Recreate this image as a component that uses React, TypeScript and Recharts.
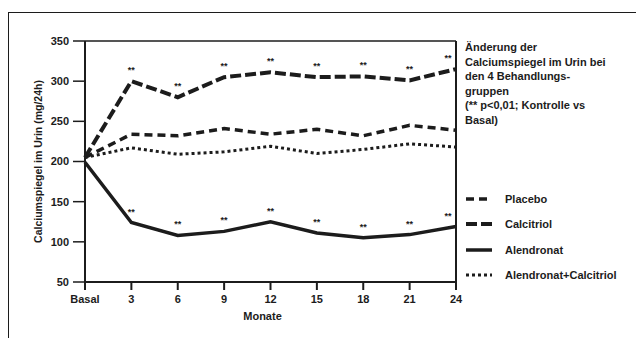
import React from 'react';
import { LineChart, Line, XAxis, YAxis, ReferenceLine, LabelList, Label } from 'recharts';

const months = [0, 3, 6, 9, 12, 15, 18, 21, 24];
const monthLabels = ['Basal', '3', '6', '9', '12', '15', '18', '21', '24'];
const placebo = [205, 234, 232, 241, 234, 240, 232, 245, 239];
const calcitriol = [205, 300, 280, 305, 311, 305, 306, 301, 315];
const alendronat = [199, 124, 108, 113, 125, 111, 105, 109, 119];
const alendronatCalcitriol = [205, 217, 209, 212, 219, 210, 215, 222, 218];
const yTicks = [50, 100, 150, 200, 250, 300, 350];

const titleLines = [
  'Änderung der',
  'Calciumspiegel im Urin bei',
  'den 4 Behandlungs-',
  'gruppen',
  '(** p<0,01; Kontrolle vs',
  'Basal)',
];

const data = months.map((m, i) => ({
  m,
  placebo: placebo[i],
  calcitriol: calcitriol[i],
  alendronat: alendronat[i],
  alendronatCalcitriol: alendronatCalcitriol[i],
}));

const ink = '#1c1c1c';
const font = '"Liberation Sans", Arial, sans-serif';

const series = [
  { key: 'placebo', name: 'Placebo', width: 3.5, dash: '8 5', stars: false },
  { key: 'calcitriol', name: 'Calcitriol', width: 4, dash: '11 4', stars: true },
  { key: 'alendronat', name: 'Alendronat', width: 3.5, dash: undefined, stars: true },
  { key: 'alendronatCalcitriol', name: 'Alendronat+Calcitriol', width: 3, dash: '3 3', stars: false },
];

// "**" significance marks above every point except Basal
const Stars = (props: any) => {
  const { x, y, index } = props;
  if (index === 0) return null;
  const dx = index === months.length - 1 ? -8 : 0;
  return (
    <text x={x + dx} y={y - 8} textAnchor="middle" fontSize={9} fontWeight="bold" fill={ink} fontFamily={font}>
      **
    </text>
  );
};

export default function App() {
  return (
    <div style={{ position: 'absolute', left: 0, top: 0, width: 636, height: 338, background: '#fff', fontFamily: font }}>
      <div
        style={{
          position: 'absolute',
          left: 8,
          top: 12,
          width: 628,
          height: 326,
          borderTop: `1.5px solid ${ink}`,
          borderLeft: `1.5px solid ${ink}`,
          boxSizing: 'border-box',
        }}
      />
      <div
        style={{
          position: 'absolute',
          left: 465,
          top: 40,
          width: 170,
          fontSize: 11,
          lineHeight: '14.6px',
          fontWeight: 'bold',
          color: ink,
        }}
      >
        {titleLines.map((t) => (
          <div key={t}>{t}</div>
        ))}
      </div>
      <div
        style={{
          position: 'absolute',
          left: 465,
          top: 186,
          width: 170,
          fontSize: 11,
          fontWeight: 'bold',
          color: ink,
        }}
      >
        {series.map((s) => (
          <div key={s.key} style={{ display: 'flex', alignItems: 'center', height: 25.5 }}>
            <svg width={40} height={10}>
              <line x1={1} y1={5} x2={27} y2={5} stroke={ink} strokeWidth={s.width} strokeDasharray={s.dash} />
            </svg>
            <span>{s.name}</span>
          </div>
        ))}
      </div>
      <LineChart
        width={636}
        height={338}
        data={data}
        margin={{ top: 41, right: 180, bottom: 26, left: 0 }}
        style={{ position: 'absolute', left: 0, top: 0 }}
      >
        <XAxis
          dataKey="m"
          type="number"
          domain={[0, 24]}
          ticks={months}
          tickFormatter={(v: number) => monthLabels[months.indexOf(v)]}
          tickSize={8}
          tickMargin={5}
          axisLine={{ stroke: ink, strokeWidth: 2 }}
          tickLine={{ stroke: ink, strokeWidth: 2 }}
          tick={{ fill: ink, fontSize: 11, fontWeight: 'bold', fontFamily: font }}
        >
          <Label value="Monate" position="insideBottom" offset={-8} dx={-8} fill={ink} fontSize={11} fontWeight="bold" fontFamily={font} />
        </XAxis>
        <YAxis
          type="number"
          domain={[50, 350]}
          ticks={yTicks}
          width={85}
          tickSize={12}
          tickMargin={4}
          axisLine={{ stroke: ink, strokeWidth: 2 }}
          tickLine={{ stroke: ink, strokeWidth: 1.5 }}
          tick={{ fill: ink, fontSize: 11, fontWeight: 'bold', fontFamily: font }}
        >
          <Label
            value="Calciumspiegel im Urin (mg/24h)"
            angle={-90}
            position="insideLeft"
            offset={38}
            style={{ textAnchor: 'middle' }}
            fill={ink}
            fontSize={10.5}
            fontWeight="bold"
            fontFamily={font}
          />
        </YAxis>
        <ReferenceLine y={350} stroke={ink} strokeWidth={1.5} />
        <ReferenceLine x={24} stroke={ink} strokeWidth={2} />
        {series.map((s) => (
          <Line
            key={s.key}
            dataKey={s.key}
            name={s.name}
            stroke={ink}
            strokeWidth={s.width}
            strokeDasharray={s.dash}
            dot={false}
            isAnimationActive={false}
          >
            {s.stars && <LabelList content={<Stars />} />}
          </Line>
        ))}
      </LineChart>
    </div>
  );
}
